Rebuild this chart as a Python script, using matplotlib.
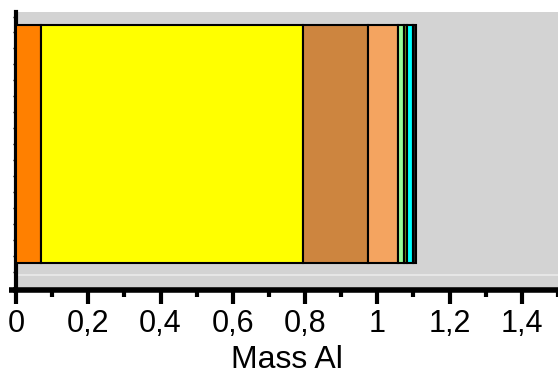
import matplotlib
matplotlib.use("Agg")
import matplotlib.pyplot as plt
from matplotlib.ticker import MultipleLocator, FuncFormatter
from matplotlib.lines import Line2D

plt.rcParams['font.family'] = ['Liberation Sans', 'DejaVu Sans']

# mass of Al per component (stacked)
masses = [0.069, 0.724, 0.182, 0.082, 0.016, 0.010, 0.015, 0.009]
colors = ['#FF8000', '#FFFF00', '#CD853F', '#F4A460', '#98FB98', '#6B8E23', '#00FFFF', '#202020']
tick_values = [0, 0.2, 0.4, 0.6, 0.8, 1.0, 1.2, 1.4]

fig = plt.figure(figsize=(5.58, 3.74), dpi=100)
ax = fig.add_axes([16 / 558, 1 - 290 / 374, 1 - 16 / 558, 278 / 374])
ax.set_facecolor('#D3D3D3')

left = 0
for m, c in zip(masses, colors):
    ax.barh(0, m, left=left, height=1, color=c, edgecolor='black', linewidth=1.5, zorder=3)
    left += m

ax.axhline(-0.55, color='#EBEBEB', linewidth=1.2, zorder=1)

ax.set_xlim(0, 1.5)
ax.set_ylim(-0.613, 0.555)

for s in ['top', 'right']:
    ax.spines[s].set_visible(False)
ax.spines['left'].set_linewidth(3)
ax.spines['bottom'].set_linewidth(4)

ax.set_xticks(tick_values)
ax.xaxis.set_minor_locator(MultipleLocator(0.1))
ax.xaxis.set_major_formatter(FuncFormatter(lambda v, p: ('%g' % round(v, 1)).replace('.', ',')))
ax.tick_params(axis='x', which='major', length=10, width=3, labelsize=22, pad=4)
ax.tick_params(axis='x', which='minor', length=5, width=3)
ax.set_yticks([])
ax.yaxis.set_minor_locator(MultipleLocator(0.067))
ax.tick_params(axis='y', which='minor', length=2, width=1, labelleft=False)

# bottom axis line extends slightly left of zero
ax.add_line(Line2D([-0.012, 0], [0, 0], transform=ax.transAxes, color='black',
                   linewidth=4, clip_on=False, solid_capstyle='butt'))

ax.set_xlabel('Mass Al', fontsize=23, labelpad=4)

fig.savefig('out.png', dpi=100)
